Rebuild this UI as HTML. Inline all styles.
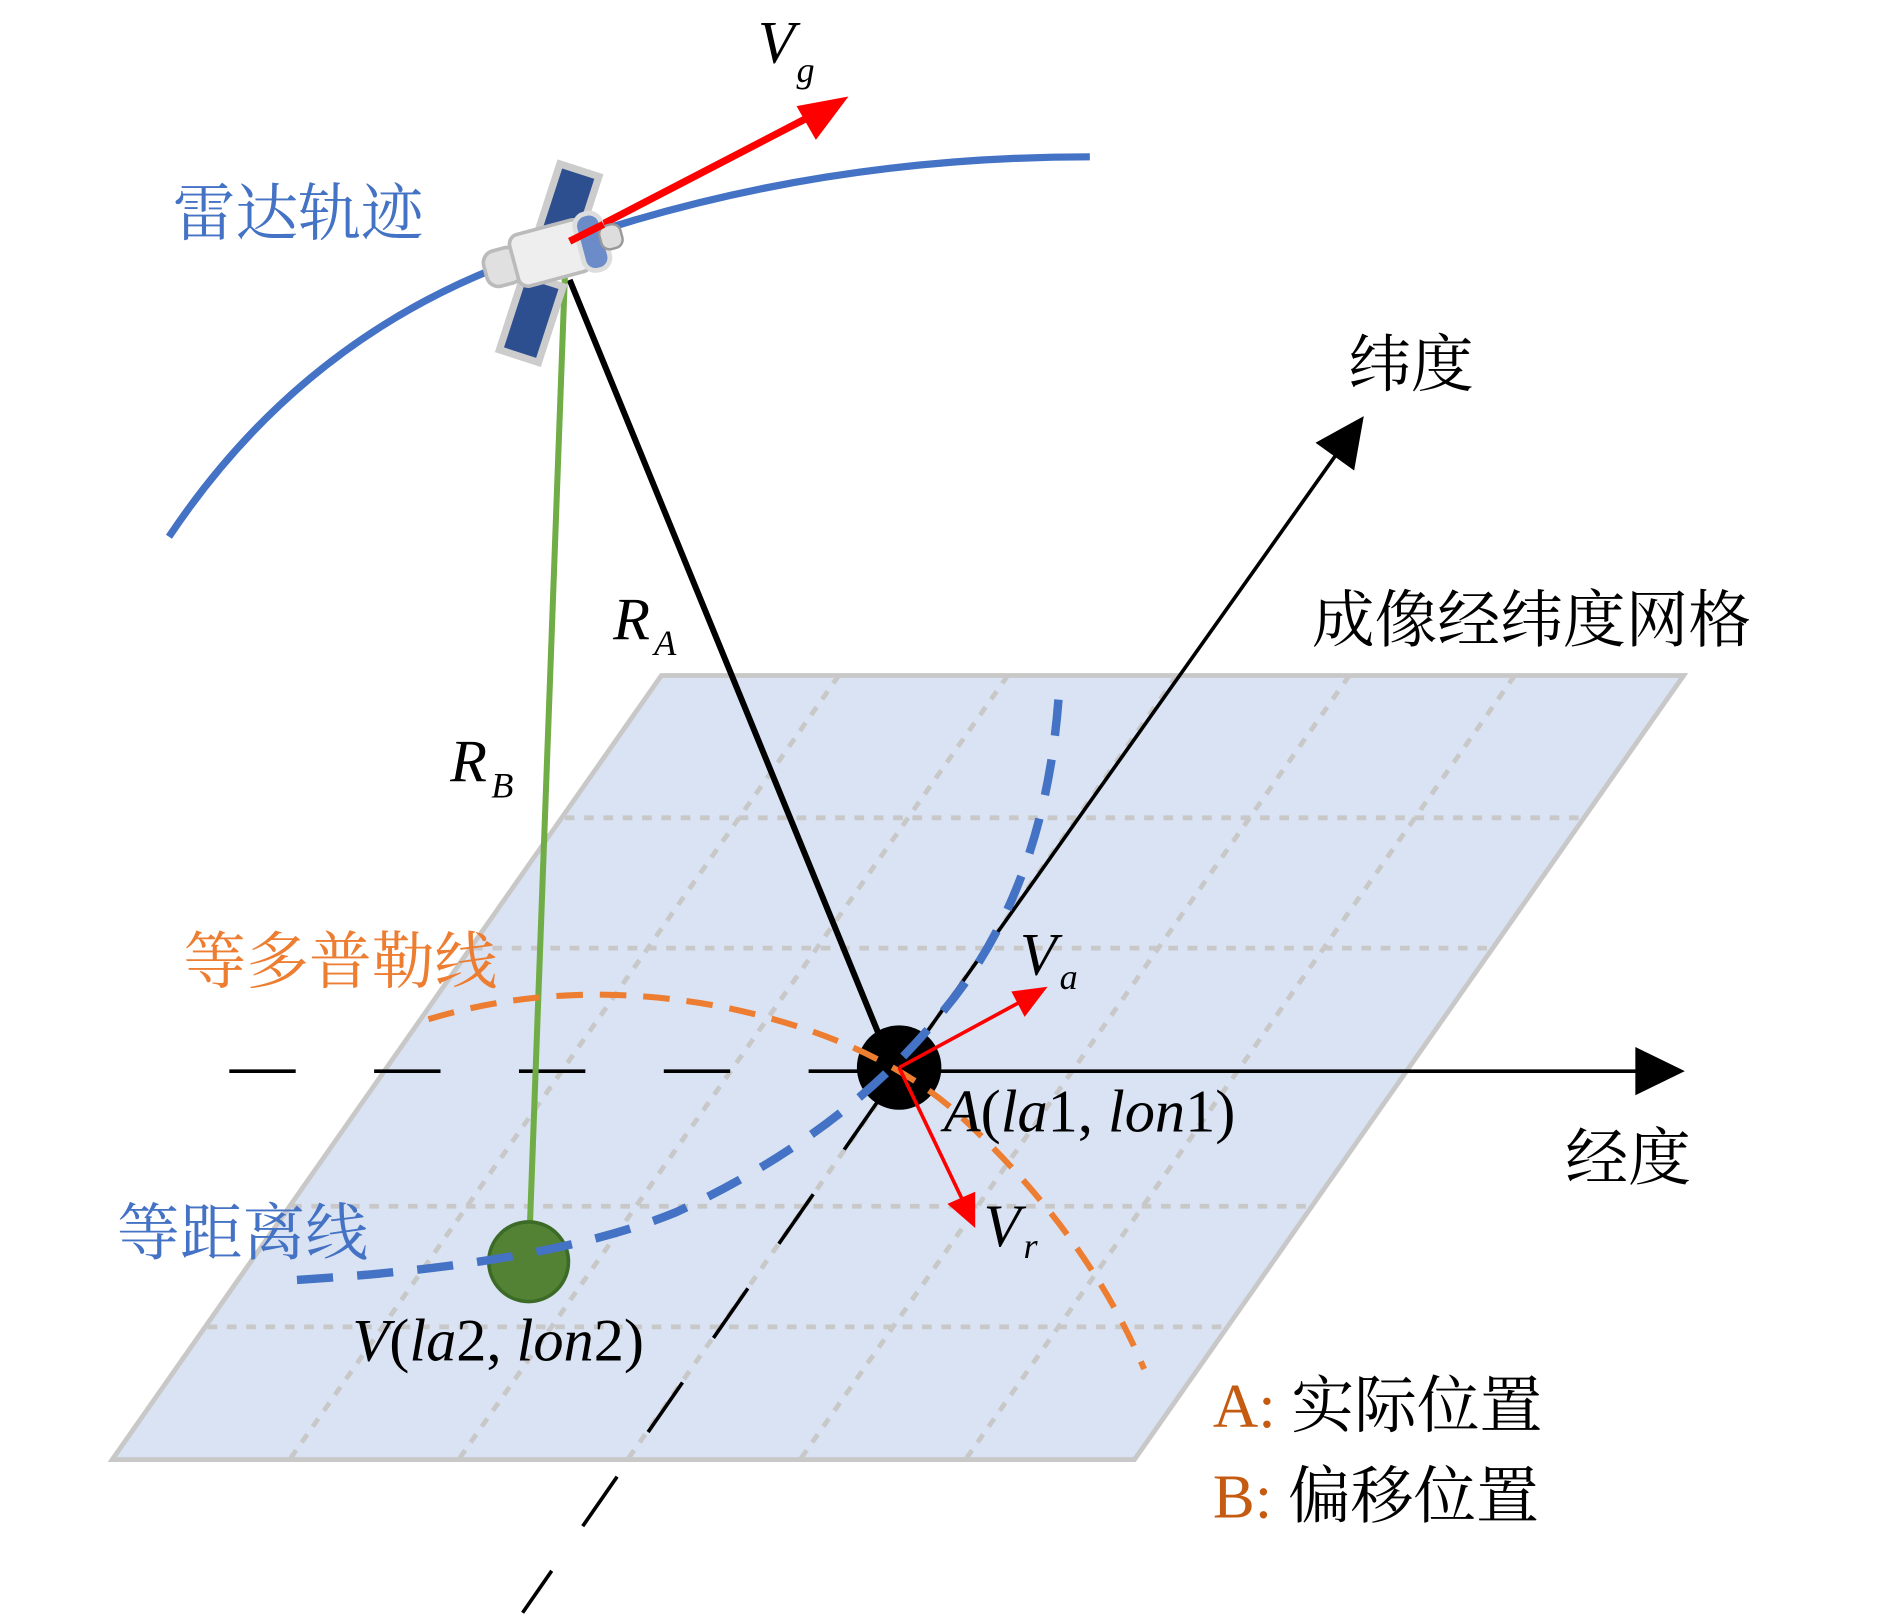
<!DOCTYPE html>
<html><head><meta charset="utf-8"><style>
html,body{margin:0;padding:0;background:#fff;}
svg{display:block;}
.cn{font-family:"Liberation Serif","Noto Serif CJK SC",serif;font-size:52px;}
.m{font-family:"Liberation Serif",serif;font-style:italic;font-size:50px;}
.s{font-family:"Liberation Serif",serif;font-style:italic;font-size:30px;}
.u{font-style:normal;}
</style></head><body>
<svg width="1890" height="1620" viewBox="0 0 1566 1343" preserveAspectRatio="none" xmlns="http://www.w3.org/2000/svg">
<!-- orbit -->
<path d="M140,445 Q250,280 430,215 Q650,130 903,130" fill="none" stroke="#4472c4" stroke-width="6"/>
<!-- plane -->
<polygon points="548,560 1395,560 940,1210 93,1210" fill="#dae3f3" stroke="#c8c8c8" stroke-width="4"/>
<g stroke="#c8c8c8" stroke-width="4" stroke-dasharray="8 8" fill="none">
<line x1="468" y1="678" x2="1315" y2="678"/>
<line x1="392" y1="786" x2="1239" y2="786"/>
<line x1="242" y1="1000" x2="1089" y2="1000"/>
<line x1="172" y1="1100" x2="1019" y2="1100"/>
<line x1="695" y1="560" x2="240" y2="1210"/>
<line x1="835" y1="560" x2="380" y2="1210"/>
<line x1="975" y1="560" x2="520" y2="1210"/>
<line x1="1118" y1="560" x2="663" y2="1210"/>
<line x1="1255" y1="560" x2="800" y2="1210"/>
</g>
<!-- axes -->
<line x1="190" y1="888" x2="720" y2="888" stroke="#000" stroke-width="3" stroke-dasharray="55 65"/>
<line x1="745" y1="888" x2="1360" y2="888" stroke="#000" stroke-width="3"/>
<polygon points="1355,868 1396,888 1355,908" fill="#000"/>
<line x1="745" y1="888" x2="1112" y2="370" stroke="#000" stroke-width="3"/>
<polygon points="1130,345 1122,390 1090,367" fill="#000"/>
<line x1="728" y1="912" x2="433" y2="1337" stroke="#000" stroke-width="3" stroke-dasharray="50 45"/>
<!-- range lines -->
<line x1="472" y1="232" x2="730" y2="862" stroke="#000" stroke-width="5"/>
<line x1="468" y1="230" x2="438" y2="1045" stroke="#70ad47" stroke-width="5"/>
<!-- points -->
<circle cx="745" cy="885" r="35" fill="#000"/>
<circle cx="438" cy="1046" r="33" fill="#548235" stroke="#3b6b27" stroke-width="3"/>
<!-- doppler -->
<path d="M355,845 Q470,810 600,835 Q720,860 790,920 Q900,1020 948,1135" fill="none" stroke="#ed7d31" stroke-width="5" stroke-dasharray="22 14"/>
<!-- isorange -->
<path d="M877,580 Q865,740 780,840 Q700,940 560,1005 Q450,1050 230,1062" fill="none" stroke="#4472c4" stroke-width="7" stroke-dasharray="30 20"/>
<!-- red arrows -->
<line x1="472" y1="200" x2="680" y2="92" stroke="#f00" stroke-width="6"/>
<polygon points="703,80 676,116 660,88" fill="#f00"/>
<line x1="745" y1="885" x2="852" y2="827" stroke="#f00" stroke-width="3"/>
<polygon points="868,818 849,843 838,822" fill="#f00"/>
<line x1="745" y1="885" x2="800" y2="1000" stroke="#f00" stroke-width="3"/>
<polygon points="808,1018 785,998 808,988" fill="#f00"/>
<!-- satellite -->
<g transform="translate(455,215) rotate(18)">
<rect x="-16" y="-78" width="34" height="62" fill="#2e4f8f" stroke="#ccc" stroke-width="6"/>
<rect x="-16" y="18" width="34" height="66" fill="#2e4f8f" stroke="#ccc" stroke-width="6"/>
</g>
<g transform="translate(455,210) rotate(-15)">
<rect x="-55" y="-14" width="30" height="30" rx="10" fill="#e0e0e0" stroke="#bbb" stroke-width="3"/>
<rect x="-30" y="-22" width="62" height="44" rx="8" fill="#eee" stroke="#bbb" stroke-width="3"/>
<rect x="26" y="-24" width="22" height="48" rx="10" fill="#6b8cc9" stroke="#ddd" stroke-width="4"/>
<rect x="44" y="-10" width="18" height="20" rx="7" fill="#ddd" stroke="#999" stroke-width="2"/>
</g>
<line x1="472" y1="200" x2="500" y2="186" stroke="#f00" stroke-width="6"/>
<!-- labels -->
<text x="628" y="52" class="m">V</text><text x="660" y="68" class="s">g</text>
<text x="143" y="195" class="cn" fill="#4472c4">雷达轨迹</text>
<text x="1117" y="320" class="cn">纬度</text>
<text x="1087" y="532" class="cn">成像经纬度网格</text>
<text x="508" y="530" class="m">R</text><text x="542" y="543" class="s">A</text>
<text x="373" y="648" class="m">R</text><text x="407" y="661" class="s">B</text>
<text x="152" y="815" class="cn" fill="#ed7d31">等多普勒线</text>
<text x="845" y="808" class="m">V</text><text x="878" y="820" class="s">a</text>
<text x="782" y="938" class="m">A<tspan class="u">(</tspan>la<tspan class="u">1, </tspan>lon<tspan class="u">1)</tspan></text>
<text x="1297" y="978" class="cn">经度</text>
<text x="97" y="1040" class="cn" fill="#4472c4">等距离线</text>
<text x="815" y="1033" class="m">V</text><text x="848" y="1043" class="s">r</text>
<text x="292" y="1128" class="m">V<tspan class="u">(</tspan>la<tspan class="u">2, </tspan>lon<tspan class="u">2)</tspan></text>
<text x="1005" y="1183" class="cn"><tspan fill="#c55a11">A:</tspan> 实际位置</text>
<text x="1005" y="1258" class="cn"><tspan fill="#c55a11">B:</tspan> 偏移位置</text>
</svg>
</body></html>
